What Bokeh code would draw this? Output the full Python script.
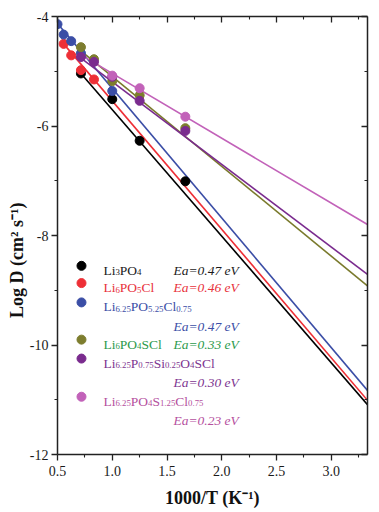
from bokeh.plotting import figure
from bokeh.models import Range1d, LinearAxis, FixedTicker, CustomLabelingPolicy
from bokeh.core.properties import value
from bokeh.embed import file_html
from bokeh.resources import INLINE

# ---------------- data ----------------
black_x = [0.714, 1.0, 1.25, 1.667]
black_y = [-5.04, -5.51, -6.27, -7.01]
red_x = [0.556, 0.625, 0.714, 0.833]
red_y = [-4.50, -4.71, -4.98, -5.15]
blue_x = [0.5, 0.556, 0.625, 0.714, 1.0]
blue_y = [-4.14, -4.33, -4.45, -4.67, -5.36]
olive_x = [0.714, 0.833, 1.0, 1.25, 1.667]
olive_y = [-4.56, -4.78, -5.18, -5.44, -6.04]
purple_x = [0.714, 0.833, 1.0, 1.25, 1.667]
purple_y = [-4.74, -4.83, -5.10, -5.54, -6.09]
pink_x = [1.0, 1.25, 1.667]
pink_y = [-5.08, -5.31, -5.83]

# Arrhenius fit lines: start x, y at start, y at x = 3.33
fit_x_end = 3.33
fit_x_start = [0.714, 0.556, 0.5, 0.714, 0.714, 0.714]
fit_y_start = [-5.04, -4.50, -4.13, -4.63, -4.76, -4.70]
fit_y_end = [-11.09, -11.01, -10.83, -8.92, -8.71, -7.80]

# series names (pieces, 1 = subscript) and activation energies
series_names = [
    [("Li", 0), ("3", 1), ("PO", 0), ("4", 1)],
    [("Li", 0), ("6", 1), ("PO", 0), ("5", 1), ("Cl", 0)],
    [("Li", 0), ("6.25", 1), ("PO", 0), ("5.25", 1), ("Cl", 0), ("0.75", 1)],
    [("Li", 0), ("6", 1), ("PO", 0), ("4", 1), ("SCl", 0)],
    [("Li", 0), ("6.25", 1), ("P", 0), ("0.75", 1), ("Si", 0), ("0.25", 1), ("O", 0), ("4", 1), ("SCl", 0)],
    [("Li", 0), ("6.25", 1), ("PO", 0), ("4", 1), ("S", 0), ("1.25", 1), ("Cl", 0), ("0.75", 1)],
]
ea_labels = ["Ea=0.47 eV", "Ea=0.46 eV", "Ea=0.47 eV", "Ea=0.33 eV", "Ea=0.30 eV", "Ea=0.23 eV"]

x_ticks = [0.5, 1.0, 1.5, 2.0, 2.5, 3.0]
x_tick_labels = ["0.5", "1.0", "1.5", "2.0", "2.5", "3.0"]
x_minor = [0.75, 1.25, 1.75, 2.25, 2.75, 3.25]
y_ticks = [-12, -10, -8, -6, -4]
y_tick_labels = ["-12", "-10", "-8", "-6", "-4"]
y_minor = [-11, -9, -7, -5]

x_title = "1000/T (K\u207b\u00b9)"
y_title = "Log D (cm\u00b2 s\u207b\u00b9)"

# ---------------- styles ----------------
marker_colors = ["#000000", "#ee2f36", "#3b4ea6", "#7d7d2e", "#7a2b8e", "#c262b9"]
line_colors = ["#000000", "#ee2f36", "#3b4ea6", "#7a7a2c", "#7a2b8e", "#c262b9"]
text_colors = ["#1a1a1a", "#e8323c", "#3b4ea6", "#2c9a4c", "#7d3590", "#b5509e"]
FONT = "Liberation Serif"
AX = "#222222"

p = figure(width=371, height=510, output_backend="svg", toolbar_location=None,
           x_range=Range1d(0.5, fit_x_end), y_range=Range1d(-12, -4),
           min_border_left=57, min_border_right=4, min_border_top=16, min_border_bottom=55)
p.grid.visible = False
p.outline_line_color = None
p.background_fill_color = "white"
p.border_fill_color = "white"

xs_all = [black_x, red_x, blue_x, olive_x, purple_x, pink_x]
ys_all = [black_y, red_y, blue_y, olive_y, purple_y, pink_y]

for i in range(6):
    p.line([fit_x_start[i], fit_x_end], [fit_y_start[i], fit_y_end[i]],
           line_color=line_colors[i], line_width=1.6)
for i in range(6):
    p.scatter(xs_all[i], ys_all[i], size=9, marker="circle",
              fill_color=marker_colors[i], line_color=marker_colors[i])

no_labels = CustomLabelingPolicy(code="""
if (indices != null && typeof indices.unset === 'function') {
  for (let i = 0; i < indices.size; i++) { indices.unset(i) }
}
return indices
""")

def style_axis(ax, labels=True):
    ax.axis_line_color = AX
    ax.axis_line_width = 1.5
    ax.major_tick_line_color = AX
    ax.minor_tick_line_color = AX
    ax.major_tick_line_width = 1.3
    ax.minor_tick_line_width = 1.1
    if labels:
        ax.major_tick_out = 6
        ax.major_tick_in = 0
        ax.minor_tick_out = 3
        ax.minor_tick_in = 0
        ax.major_label_text_font = FONT
        ax.major_label_text_font_size = "14px"
        ax.major_label_text_color = "#1a1a1a"
    else:
        ax.major_tick_out = 0
        ax.major_tick_in = 6
        ax.minor_tick_out = 0
        ax.minor_tick_in = 3
        ax.major_label_text_font_size = "0px"
        ax.major_label_standoff = 0
        ax.major_label_policy = no_labels

xa = p.xaxis[0]
xa.ticker = FixedTicker(ticks=x_ticks, minor_ticks=x_minor)
xa.major_label_overrides = dict(zip(x_ticks, x_tick_labels))
style_axis(xa)
xa.major_label_standoff = 5
xa.axis_label = x_title
xa.axis_label_text_font = FONT
xa.axis_label_text_font_size = "18px"
xa.axis_label_text_font_style = "bold"
xa.axis_label_text_color = "#111111"
xa.axis_label_standoff = 9

ya = p.yaxis[0]
ya.ticker = FixedTicker(ticks=y_ticks, minor_ticks=y_minor)
ya.major_label_overrides = dict(zip(y_ticks, y_tick_labels))
style_axis(ya)
ya.major_label_standoff = 3
ya.axis_label = y_title + "\u00a0" * 11
ya.axis_label_text_font = FONT
ya.axis_label_text_font_size = "18px"
ya.axis_label_text_font_style = "bold"
ya.axis_label_text_color = "#111111"
ya.axis_label_standoff = 0

top = LinearAxis(ticker=FixedTicker(ticks=x_ticks, minor_ticks=x_minor))
style_axis(top, labels=False)
p.add_layout(top, "above")
right = LinearAxis(ticker=FixedTicker(ticks=y_ticks, minor_ticks=y_minor))
style_axis(right, labels=False)
p.add_layout(right, "right")

# ---------------- legend (drawn as text) ----------------
WID = {'L': 611, 'i': 278, 'P': 556, 'O': 722, 'C': 667, 'l': 278, 'S': 556, '.': 250}
for d in "0123456789":
    WID[d] = 500
MAIN, SUB = 13.5, 8.8

def text_width(s, size):
    return sum(WID.get(c, 500) for c in s) * size / 1000.0

leg_marker_x = 0.719
leg_text_x = 0.919
leg_ea_x = 1.559
name_rows = [-8.554, -8.869, -9.222, -9.902, -10.248, -10.945]
ea_rows = [-8.554, -8.869, -9.579, -9.902, -10.599, -11.299]

for i in range(6):
    p.scatter([leg_marker_x], [name_rows[i]], size=9, marker="circle",
              fill_color=marker_colors[i], line_color=marker_colors[i])
    off = 0.0
    for piece, sub in series_names[i]:
        size = SUB if sub else MAIN
        p.text([leg_text_x], [name_rows[i]], text=[piece], x_offset=off,
               y_offset=(6.5 if sub else 4.5), text_font=value(FONT),
               text_font_size=f"{size}px", text_color=text_colors[i],
               text_baseline="alphabetic", text_align="left")
        off += text_width(piece, size)
    p.text([leg_ea_x], [ea_rows[i]], text=[ea_labels[i]], y_offset=4.5,
           text_font=value(FONT), text_font_size=f"{MAIN}px",
           text_font_style="italic", text_color=text_colors[i],
           text_baseline="alphabetic", text_align="left")

open("out.html", "w").write(file_html(p, INLINE))
